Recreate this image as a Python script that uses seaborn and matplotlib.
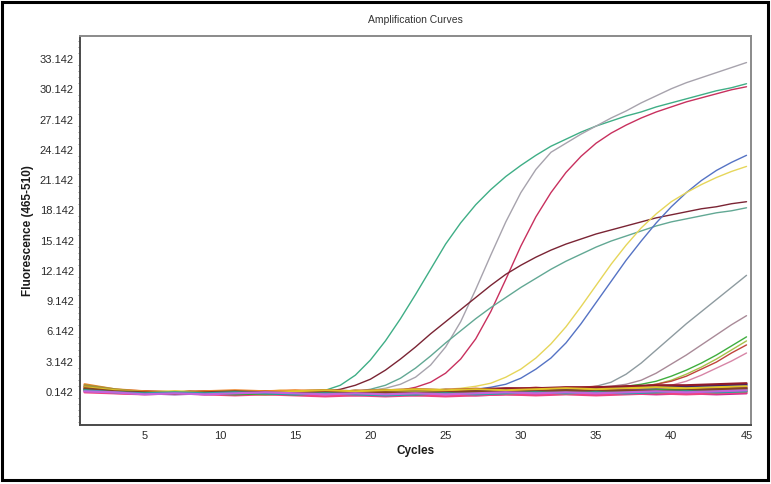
import numpy as np
import pandas as pd
import matplotlib
matplotlib.use('Agg')
import matplotlib.pyplot as plt
import seaborn as sns
from matplotlib.patches import Rectangle
from matplotlib.ticker import MultipleLocator

# amplified wells, one value per cycle (1..45)
well_a = [0.5, 0.3, 0.2, 0.1, 0.1, 0.0, 0.1, 0.1, 0.0, 0.1, 0.1, 0.0, 0.1, 0.1, 0.1, 0.2,
          0.3, 0.8, 1.8, 3.3, 5.2, 7.4, 9.8, 12.3, 14.8, 16.9, 18.7, 20.2, 21.5, 22.6, 23.6,
          24.5, 25.2, 25.9, 26.5, 27.0, 27.5, 27.9, 28.4, 28.8, 29.2, 29.6, 30.0, 30.3, 30.7]
well_b = [0.4, 0.2, 0.1, 0.0, 0.1, 0.1, 0.0, 0.1, 0.0, 0.1, 0.0, 0.1, 0.1, 0.0, 0.1, 0.1,
          0.1, 0.2, 0.2, 0.3, 0.5, 0.9, 1.6, 2.8, 4.6, 7.1, 10.3, 13.7, 17.0, 19.9, 22.2,
          23.9, 24.8, 25.7, 26.5, 27.3, 28.0, 28.8, 29.5, 30.2, 30.8, 31.3, 31.8, 32.3, 32.8]
well_c = [0.3, 0.2, 0.1, 0.1, 0.0, 0.1, 0.0, 0.0, 0.1, 0.0, 0.1, 0.0, 0.0, 0.1, 0.0, 0.1,
          0.1, 0.0, 0.1, 0.1, 0.2, 0.3, 0.6, 1.1, 2.0, 3.4, 5.4, 8.1, 11.3, 14.6, 17.5,
          19.9, 21.9, 23.5, 24.8, 25.8, 26.6, 27.3, 27.9, 28.4, 28.9, 29.3, 29.7, 30.1, 30.4]
well_d = [0.6, 0.3, 0.2, 0.1, 0.2, 0.1, 0.1, 0.2, 0.1, 0.1, 0.2, 0.1, 0.2, 0.1, 0.2, 0.2,
          0.2, 0.4, 0.8, 1.4, 2.3, 3.4, 4.6, 5.9, 7.1, 8.3, 9.5, 10.7, 11.8, 12.7, 13.5,
          14.2, 14.8, 15.3, 15.8, 16.2, 16.6, 17.0, 17.4, 17.7, 18.0, 18.3, 18.5, 18.8, 19.0]
well_e = [0.3, 0.2, 0.1, 0.0, 0.1, 0.0, 0.1, 0.0, 0.1, 0.1, 0.0, 0.1, 0.0, 0.1, 0.1, 0.0,
          0.1, 0.1, 0.2, 0.4, 0.8, 1.5, 2.5, 3.7, 5.0, 6.2, 7.4, 8.5, 9.5, 10.5, 11.4,
          12.3, 13.1, 13.8, 14.5, 15.1, 15.6, 16.1, 16.6, 17.0, 17.3, 17.6, 17.9, 18.1, 18.4]
well_f = [0.5, 0.2, 0.1, 0.1, 0.0, 0.1, 0.1, 0.0, 0.1, 0.1, 0.2, 0.1, 0.1, 0.2, 0.1, 0.2,
          0.2, 0.1, 0.2, 0.2, 0.3, 0.2, 0.3, 0.3, 0.2, 0.3, 0.4, 0.6, 0.9, 1.5, 2.4,
          3.5, 5.0, 6.9, 9.0, 11.1, 13.2, 15.1, 16.9, 18.5, 19.9, 21.1, 22.1, 22.9, 23.6]
well_g = [0.7, 0.3, 0.2, 0.1, 0.2, 0.1, 0.2, 0.1, 0.2, 0.2, 0.1, 0.2, 0.2, 0.3, 0.2, 0.3,
          0.3, 0.2, 0.3, 0.3, 0.4, 0.3, 0.4, 0.4, 0.4, 0.5, 0.7, 1.0, 1.6, 2.4, 3.5,
          4.9, 6.6, 8.6, 10.7, 12.8, 14.7, 16.4, 17.8, 19.0, 19.9, 20.7, 21.4, 22.0, 22.5]
well_h = [0.4, 0.2, 0.1, 0.0, 0.1, 0.0, 0.1, 0.1, 0.0, 0.1, 0.0, 0.1, 0.1, 0.2, 0.1, 0.1,
          0.2, 0.1, 0.2, 0.2, 0.1, 0.2, 0.3, 0.2, 0.3, 0.3, 0.2, 0.3, 0.4, 0.3, 0.4,
          0.4, 0.5, 0.5, 0.7, 1.1, 1.9, 3.0, 4.3, 5.6, 6.9, 8.1, 9.3, 10.5, 11.7]
well_i = [0.3, 0.1, 0.0, 0.1, 0.0, 0.1, 0.0, 0.1, 0.1, 0.0, 0.1, 0.0, 0.1, 0.1, 0.2, 0.1,
          0.2, 0.1, 0.2, 0.2, 0.3, 0.2, 0.3, 0.2, 0.3, 0.3, 0.4, 0.3, 0.4, 0.4, 0.5,
          0.4, 0.5, 0.5, 0.6, 0.7, 0.9, 1.3, 2.0, 2.9, 3.8, 4.8, 5.8, 6.8, 7.7]
well_j = [0.4, 0.2, 0.1, 0.0, 0.1, 0.1, 0.0, 0.1, 0.0, 0.1, 0.1, 0.2, 0.1, 0.1, 0.2, 0.1,
          0.2, 0.2, 0.1, 0.2, 0.3, 0.2, 0.3, 0.3, 0.2, 0.3, 0.4, 0.3, 0.4, 0.4, 0.5,
          0.4, 0.5, 0.5, 0.6, 0.6, 0.7, 0.9, 1.2, 1.7, 2.3, 3.0, 3.8, 4.7, 5.6]
well_k = [0.5, 0.3, 0.1, 0.1, 0.0, 0.1, 0.0, 0.1, 0.1, 0.0, 0.1, 0.1, 0.2, 0.1, 0.2, 0.1,
          0.2, 0.2, 0.3, 0.2, 0.3, 0.2, 0.3, 0.3, 0.4, 0.3, 0.4, 0.4, 0.3, 0.4, 0.5,
          0.4, 0.5, 0.5, 0.6, 0.5, 0.6, 0.7, 0.9, 1.3, 1.9, 2.6, 3.4, 4.3, 5.2]
well_l = [0.6, 0.3, 0.2, 0.1, 0.2, 0.1, 0.1, 0.2, 0.1, 0.2, 0.1, 0.2, 0.2, 0.1, 0.2, 0.2,
          0.3, 0.2, 0.3, 0.3, 0.2, 0.3, 0.4, 0.3, 0.4, 0.4, 0.5, 0.4, 0.5, 0.5, 0.6,
          0.5, 0.6, 0.6, 0.7, 0.6, 0.7, 0.7, 0.9, 1.2, 1.7, 2.4, 3.1, 4.0, 4.8]
well_m = [0.2, 0.1, 0.0, -0.1, 0.0, -0.1, 0.0, 0.0, -0.1, 0.0, 0.1, 0.0, 0.1, 0.0, 0.1, 0.1,
          0.0, 0.1, 0.2, 0.1, 0.2, 0.1, 0.2, 0.2, 0.3, 0.2, 0.3, 0.3, 0.2, 0.3, 0.4,
          0.3, 0.4, 0.4, 0.5, 0.4, 0.5, 0.5, 0.6, 0.8, 1.2, 1.8, 2.5, 3.2, 4.0]

amp_wells = {
    'A': (well_a, '#3fae86'), 'B': (well_b, '#a7a3ad'), 'C': (well_c, '#c8305e'),
    'D': (well_d, '#7a2434'), 'E': (well_e, '#62a894'), 'F': (well_f, '#5573c4'),
    'G': (well_g, '#e6d65a'), 'H': (well_h, '#8e9ba0'), 'I': (well_i, '#a98a98'),
    'J': (well_j, '#3fae3f'), 'K': (well_k, '#a6c24a'), 'L': (well_l, '#c0443a'),
    'M': (well_m, '#d785a6'),
}

# negative wells, read every second cycle (1, 3, ..., 45)
neg_cycles = [1, 3, 5, 7, 9, 11, 13, 15, 17, 19, 21, 23, 25, 27, 29, 31, 33, 35, 37, 39, 41, 43, 45]
neg_wells = {
    'n1': ([0.6, 0.3, 0.1, 0.0, 0.1, 0.0, 0.1, 0.0, 0.1, 0.0, -0.1, 0.0, 0.1, 0.2, 0.1, 0.2, 0.3, 0.2, 0.3, 0.4, 0.4, 0.5, 0.6], '#e02828'),
    'n2': ([0.3, 0.2, 0.0, 0.1, -0.1, 0.0, -0.1, 0.0, -0.1, -0.2, -0.1, -0.2, -0.1, -0.2, -0.1, -0.1, 0.0, -0.1, 0.0, -0.1, 0.0, -0.1, 0.0], '#d0288e'),
    'n3': ([0.5, 0.2, 0.1, 0.0, 0.1, 0.1, 0.0, 0.1, 0.1, 0.2, 0.1, 0.2, 0.3, 0.2, 0.3, 0.4, 0.3, 0.4, 0.5, 0.5, 0.6, 0.7, 0.8], '#3454cc'),
    'n4': ([0.2, 0.1, 0.0, -0.1, 0.0, -0.1, 0.0, 0.1, 0.0, 0.1, 0.0, 0.1, 0.2, 0.1, 0.2, 0.3, 0.2, 0.3, 0.4, 0.3, 0.4, 0.5, 0.5], '#8234ae'),
    'n5': ([0.4, 0.2, 0.1, 0.1, 0.0, 0.1, 0.2, 0.1, 0.2, 0.1, 0.2, 0.3, 0.2, 0.3, 0.4, 0.3, 0.4, 0.5, 0.6, 0.6, 0.7, 0.8, 0.9], '#26287e'),
    'n6': ([0.7, 0.3, 0.2, 0.1, 0.2, 0.1, 0.2, 0.2, 0.3, 0.2, 0.3, 0.4, 0.3, 0.4, 0.5, 0.5, 0.6, 0.6, 0.7, 0.8, 0.8, 0.9, 1.0], '#901a2a'),
    'n7': ([0.1, 0.0, -0.1, 0.0, -0.1, -0.2, -0.1, -0.2, -0.3, -0.2, -0.3, -0.2, -0.3, -0.2, -0.1, -0.2, -0.1, -0.2, -0.1, 0.0, -0.1, 0.0, 0.1], '#ee4282'),
    'n8': ([0.9, 0.4, 0.2, 0.1, 0.2, 0.3, 0.2, 0.3, 0.2, 0.1, 0.2, 0.1, 0.0, 0.1, 0.0, 0.1, 0.0, 0.1, 0.2, 0.1, 0.2, 0.1, 0.2], '#ee8428'),
    'n9': ([0.8, 0.4, 0.1, 0.0, 0.1, 0.0, -0.1, 0.0, 0.1, 0.0, 0.1, 0.2, 0.1, 0.0, 0.1, 0.2, 0.1, 0.2, 0.1, 0.2, 0.3, 0.2, 0.3], '#a2923a'),
    'n10': ([0.4, 0.2, 0.0, 0.1, 0.0, -0.1, 0.0, -0.1, 0.0, 0.1, 0.0, -0.1, 0.0, 0.1, 0.2, 0.1, 0.2, 0.3, 0.2, 0.3, 0.4, 0.3, 0.4], '#36a236'),
    'n11': ([0.6, 0.3, 0.1, 0.2, 0.1, 0.2, 0.1, 0.2, 0.3, 0.2, 0.3, 0.4, 0.3, 0.4, 0.3, 0.4, 0.5, 0.4, 0.5, 0.6, 0.5, 0.6, 0.7], '#e0c228'),
    'n12': ([0.5, 0.2, 0.1, 0.0, 0.1, 0.2, 0.1, 0.0, 0.1, 0.0, 0.1, 0.0, 0.1, 0.2, 0.1, 0.2, 0.3, 0.2, 0.3, 0.2, 0.3, 0.4, 0.5], '#824426'),
    'n13': ([0.3, 0.1, 0.0, 0.1, 0.0, 0.1, 0.0, -0.1, 0.0, -0.1, -0.2, -0.1, 0.0, -0.1, 0.0, 0.1, 0.0, 0.1, 0.0, 0.1, 0.2, 0.1, 0.2], '#26a2a2'),
    'n14': ([0.2, 0.1, -0.1, 0.0, -0.1, 0.0, 0.1, 0.0, -0.1, 0.0, -0.1, 0.0, -0.1, 0.0, 0.1, 0.0, 0.1, 0.0, 0.1, 0.2, 0.1, 0.2, 0.3], '#c264dc'),
}

ytick_vals = [0.142, 3.142, 6.142, 9.142, 12.142, 15.142, 18.142, 21.142, 24.142, 27.142, 30.142, 33.142]
ytick_labels = ['0.142', '3.142', '6.142', '9.142', '12.142', '15.142', '18.142',
                '21.142', '24.142', '27.142', '30.142', '33.142']
xtick_vals = [5, 10, 15, 20, 25, 30, 35, 40, 45]

rows = []
for name, (vals, _) in amp_wells.items():
    rows += [{'well': name, 'cycle': c + 1, 'fluor': v} for c, v in enumerate(vals)]
amp_df = pd.DataFrame(rows)

rows = []
for name, (vals, _) in neg_wells.items():
    rows += [{'well': name, 'cycle': c, 'fluor': v} for c, v in zip(neg_cycles, vals)]
neg_df = pd.DataFrame(rows)

sns.set_style('white')
plt.rcParams['font.family'] = ['Liberation Sans', 'DejaVu Sans']

fig = plt.figure(figsize=(7.71, 4.84), dpi=100)
ax = fig.add_axes([0.1038, 0.1219, 0.8703, 0.8037])

sns.lineplot(data=amp_df, x='cycle', y='fluor', hue='well', ax=ax,
             palette={k: v[1] for k, v in amp_wells.items()},
             estimator=None, legend=False, linewidth=1.0)
sns.lineplot(data=neg_df, x='cycle', y='fluor', hue='well', ax=ax,
             palette={k: v[1] for k, v in neg_wells.items()},
             estimator=None, legend=False, linewidth=1.6)

ax.set_xlim(0.7, 45.3)
ax.set_ylim(-3.14, 35.43)
ax.set_xticks(xtick_vals)
ax.set_yticks(ytick_vals, labels=ytick_labels)
ax.yaxis.set_minor_locator(MultipleLocator(0.6, offset=0.142))

ax.tick_params(axis='both', which='major', direction='out', length=3, width=0.8,
               color='#555555', labelsize=8, labelcolor='#2a2a2a', pad=1.5)
ax.tick_params(axis='y', which='minor', direction='out', length=1.5, width=0.6,
               color='#777777', left=True)

for side in ['left', 'bottom']:
    ax.spines[side].set_color('#4a4a4a')
    ax.spines[side].set_linewidth(1.4)
for side in ['top', 'right']:
    ax.spines[side].set_color('#8a8a8a')
    ax.spines[side].set_linewidth(1.4)

ax.set_xlabel('Cycles', fontsize=8.5, fontweight='bold', color='#1a1a1a')
ax.set_ylabel('Fluorescence (465-510)', fontsize=8.5, fontweight='bold', color='#1a1a1a')
ax.xaxis.set_label_coords(0.5, -0.052)
ax.yaxis.set_label_coords(-0.068, 0.5)

fig.text(0.539, 1 - 20 / 484, 'Amplification Curves', fontsize=7.5,
         color='#333333', ha='center', va='center')

fig.add_artist(Rectangle((0.0026, 0.0083), 0.9935, 0.9876, transform=fig.transFigure,
                         fill=False, edgecolor='black', linewidth=2.2))

fig.savefig('out.png', dpi=100)
